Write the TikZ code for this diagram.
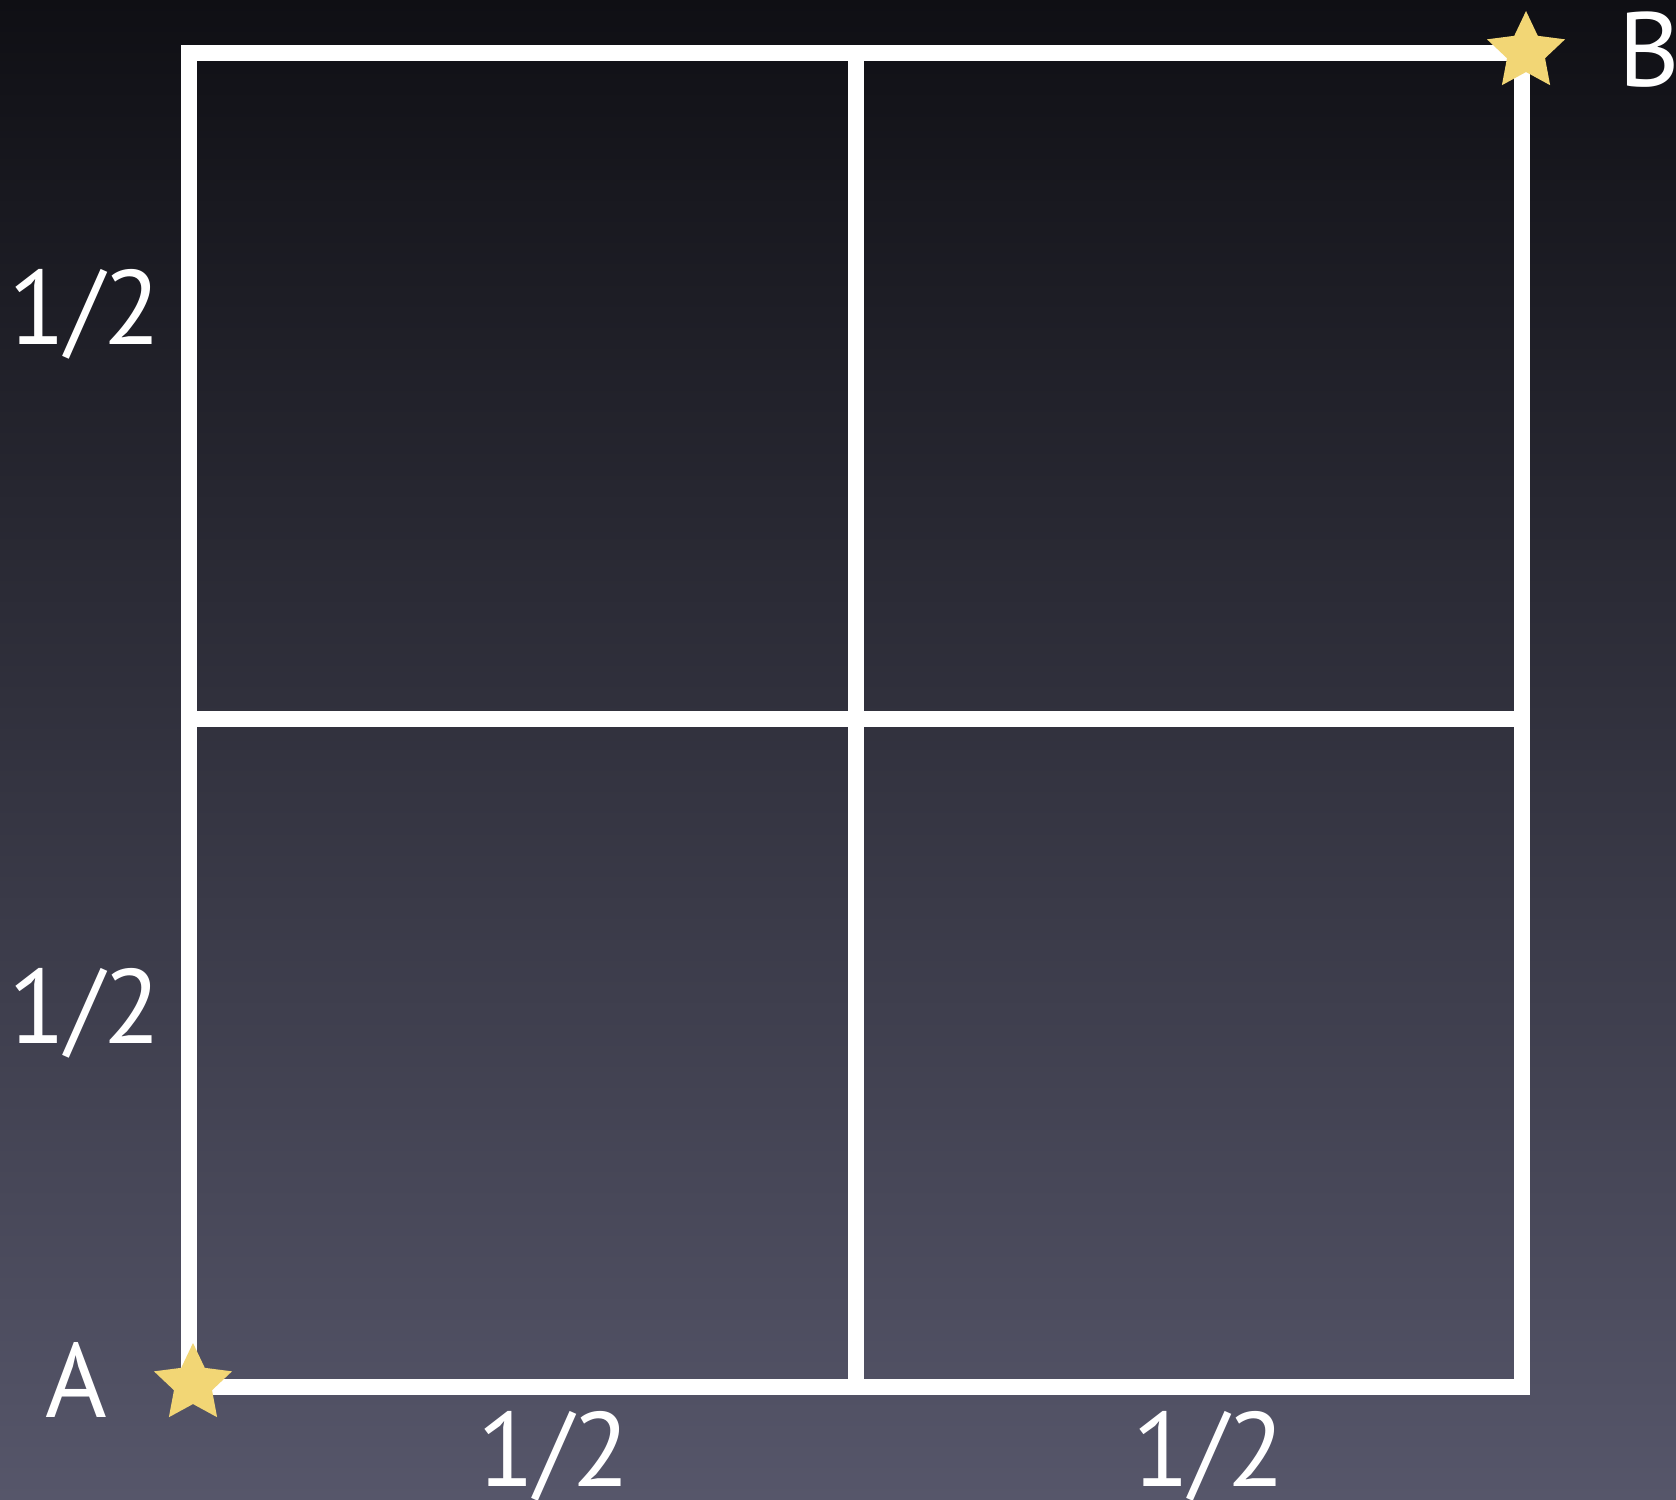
\documentclass[tikz,border=0pt]{standalone}
\usepackage{fontspec}
\setmainfont{PT Sans}
\usetikzlibrary{shapes.geometric}
\definecolor{bgtop}{RGB}{15,15,20}
\definecolor{bgbot}{RGB}{86,86,106}
\definecolor{stary}{RGB}{242,214,117}
\tikzset{
  gridline/.style={draw=white, line width=4.6pt, line cap=rect, line join=miter},
  lab/.style={text=white, font=\fontsize{30}{36}\selectfont, inner sep=0pt},
  starmark/.style={star, star points=5, star point ratio=2.05, fill=stary, draw=none, minimum size=0.82cm, inner sep=0pt}
}
\begin{document}
\begin{tikzpicture}[x=0.01cm, y=-0.01cm]
\useasboundingbox (0,0) rectangle (1676,1499);
\shade[top color=bgtop, bottom color=bgbot] (0,0) rectangle (1676,1499);
% corners
\coordinate (A) at (189,1387);
\coordinate (B) at (1522,53);
\coordinate (TL) at (189,53);
\coordinate (BR) at (1522,1387);
\coordinate (TM) at (856,53);
\coordinate (BM) at (856,1387);
\coordinate (LM) at (189,719);
\coordinate (RM) at (1522,719);
\draw[gridline] (A) -- (TL) -- (B) -- (BR) -- cycle;
\draw[gridline] (TM) -- (BM);
\draw[gridline] (LM) -- (RM);
\node[starmark] (sA) at (193,1384) {};
\node[starmark] (sB) at (1526,52) {};
\node[lab, anchor=west] (lB) at (1618,50) {B};
\node[lab] (lA) at (76,1380) {A};
\node[lab] (l1) at (85,314) {1/2};
\node[lab] (l2) at (85,1013) {1/2};
\node[lab] (l3) at (554,1456) {1/2};
\node[lab] (l4) at (1209,1456) {1/2};
\end{tikzpicture}
\end{document}
